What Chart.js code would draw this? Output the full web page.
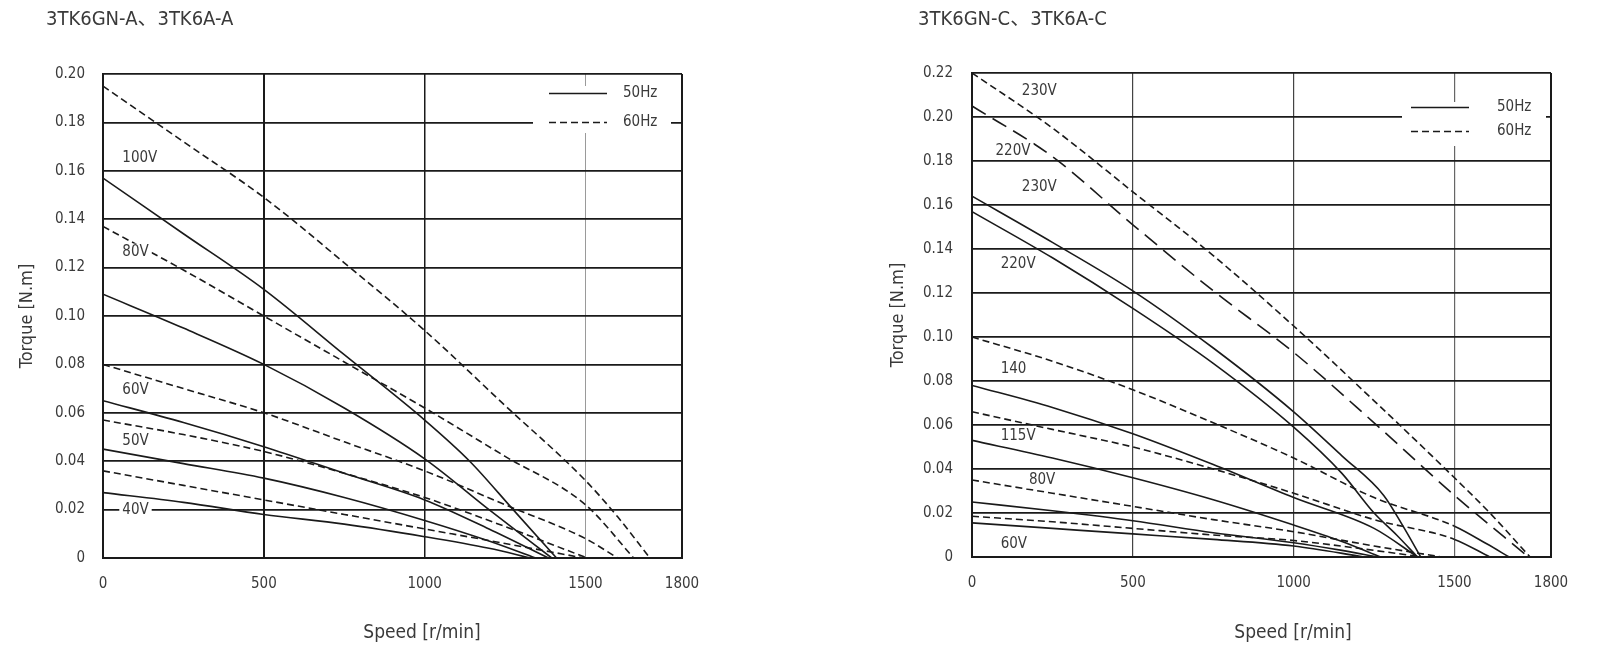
<!DOCTYPE html>
<html>
<head>
<meta charset="utf-8">
<title>3TK6 torque curves</title>
<script src="https://cdn.jsdelivr.net/npm/chart.js@4.4.1/dist/chart.umd.min.js"></script>
<style>
    html, body { margin: 0; padding: 0; background: #fff; }
    #wrap { position: relative; width: 1600px; height: 655px; }
    .panel { position: absolute; top: 0; width: 800px; height: 655px; }
</style>
</head>
<body>
<div id="wrap">
    <div class="panel" style="left:0"><canvas id="chartA" width="800" height="655"></canvas></div>
    <div class="panel" style="left:800px"><canvas id="chartC" width="800" height="655"></canvas></div>
</div>
<script>
// tick labels shared by both charts
const speedTicks = [0, 500, 1000, 1500, 1800];
const torqueTicksA = [0, 0.02, 0.04, 0.06, 0.08, 0.10, 0.12, 0.14, 0.16, 0.18, 0.20];
const torqueTicksC = [0, 0.02, 0.04, 0.06, 0.08, 0.10, 0.12, 0.14, 0.16, 0.18, 0.20, 0.22];

// ---- 3TK6GN-A / 3TK6A-A : speed [r/min] and torque [N.m] ----
const a100v50Speed = [0, 250, 500, 750, 1000, 1140, 1275, 1410];
const a100v50Torque = [0.157, 0.134, 0.111, 0.084, 0.057, 0.040, 0.020, 0];
const a80v50Speed = [0, 250, 500, 750, 1000, 1200, 1395];
const a80v50Torque = [0.109, 0.095, 0.080, 0.062, 0.041, 0.020, 0];
const a60v50Speed = [0, 250, 500, 750, 1000, 1200, 1385];
const a60v50Torque = [0.065, 0.056, 0.046, 0.035, 0.024, 0.012, 0];
const a50v50Speed = [0, 250, 500, 750, 1000, 1200, 1345];
const a50v50Torque = [0.045, 0.039, 0.033, 0.025, 0.0155, 0.007, 0];
const a40v50Speed = [0, 250, 500, 750, 1000, 1200, 1330];
const a40v50Torque = [0.027, 0.023, 0.018, 0.014, 0.0088, 0.004, 0];

const a100v60Speed = [0, 250, 500, 750, 1000, 1250, 1500, 1600, 1700];
const a100v60Torque = [0.195, 0.172, 0.149, 0.122, 0.094, 0.063, 0.032, 0.017, 0];
const a80v60Speed = [0, 250, 500, 750, 1000, 1250, 1500, 1650];
const a80v60Torque = [0.137, 0.119, 0.100, 0.081, 0.062, 0.042, 0.022, 0];
const a60v60Speed = [0, 250, 500, 750, 1000, 1250, 1500, 1600];
const a60v60Torque = [0.080, 0.070, 0.060, 0.048, 0.036, 0.022, 0.008, 0];
const a50v60Speed = [0, 250, 500, 750, 1000, 1250, 1505];
const a50v60Torque = [0.057, 0.051, 0.044, 0.035, 0.025, 0.013, 0];
const a40v60Speed = [0, 250, 500, 750, 1000, 1250, 1495];
const a40v60Torque = [0.036, 0.030, 0.024, 0.018, 0.012, 0.006, 0];

// voltage labels of chart A (text, speed, torque where the text starts)
const aLabels = ['100V', '80V', '60V', '50V', '40V'];
const aLabelSpeed = [60, 60, 60, 60, 60];
const aLabelTorque = [0.1654, 0.1266, 0.0692, 0.0481, 0.0198];

// ---- 3TK6GN-C / 3TK6A-C ----
const c230v60Speed = [0, 250, 500, 750, 1000, 1250, 1500, 1610, 1735];
const c230v60Torque = [0.220, 0.195, 0.166, 0.137, 0.105, 0.071, 0.036, 0.020, 0];
const c220v60Speed = [0, 250, 500, 750, 1000, 1250, 1500, 1730];
const c220v60Torque = [0.205, 0.182, 0.151, 0.121, 0.093, 0.061, 0.028, 0];
const c230v50Speed = [0, 250, 500, 750, 1000, 1150, 1280, 1340, 1395];
const c230v50Torque = [0.164, 0.143, 0.121, 0.095, 0.066, 0.046, 0.028, 0.014, 0];
const c220v50Speed = [0, 250, 500, 750, 1000, 1150, 1250, 1320, 1385];
const c220v50Torque = [0.157, 0.136, 0.113, 0.088, 0.059, 0.038, 0.020, 0.010, 0];
const c140v60Speed = [0, 250, 500, 750, 1000, 1250, 1500, 1600, 1670];
const c140v60Torque = [0.100, 0.089, 0.076, 0.061, 0.045, 0.027, 0.014, 0.006, 0];
const c140v50Speed = [0, 250, 500, 750, 1000, 1250, 1385];
const c140v50Torque = [0.078, 0.068, 0.056, 0.042, 0.027, 0.013, 0];
const c115v60Speed = [0, 250, 500, 750, 1000, 1250, 1500, 1610];
const c115v60Torque = [0.066, 0.058, 0.050, 0.040, 0.029, 0.017, 0.008, 0];
const c115v50Speed = [0, 250, 500, 750, 1000, 1150, 1270];
const c115v50Torque = [0.053, 0.045, 0.036, 0.026, 0.0145, 0.007, 0];
const c80v60Speed = [0, 250, 500, 750, 1000, 1250, 1460];
const c80v60Torque = [0.035, 0.029, 0.023, 0.017, 0.0115, 0.005, 0];
const c80v50Speed = [0, 250, 500, 750, 1000, 1150, 1260];
const c80v50Torque = [0.025, 0.021, 0.0165, 0.011, 0.0065, 0.003, 0];
const c60v60Speed = [0, 250, 500, 750, 1000, 1250, 1400];
const c60v60Torque = [0.0185, 0.016, 0.013, 0.010, 0.0075, 0.003, 0];
const c60v50Speed = [0, 250, 500, 750, 1000, 1220];
const c60v50Torque = [0.0155, 0.013, 0.0105, 0.008, 0.005, 0];

const cLabels = ['230V', '220V', '230V', '220V', '140', '115V', '80V', '60V'];
const cLabelSpeed = [155, 73, 155, 89, 89, 89, 177, 89];
const cLabelTorque = [0.2117, 0.1843, 0.168, 0.1332, 0.0854, 0.0548, 0.0348, 0.006];

// ---- styling ----
const FONT = "'Liberation Sans Narrow', 'Arial Narrow', 'DejaVu Sans Condensed', 'Noto Sans CJK SC', sans-serif";
const TEXT_COLOR = '#3a3a3a';
const LINE_COLOR = '#1a1a1a';
const SHORT_DASH = [7, 4];
const LONG_DASH = [16, 8];

// build one curve from its speed / torque arrays
function curve(label, speeds, torques, dash, solidTailFrom) {
    const ds = {
        label: label,
        data: speeds.map((s, i) => ({ x: s, y: torques[i] })),
        borderColor: LINE_COLOR,
        borderWidth: 1.6,
        borderDash: dash,
        pointRadius: 0,
        cubicInterpolationMode: 'monotone',
        fill: false
    };
    // the end of some 60Hz curves is drawn as a solid line
    if (solidTailFrom) {
        ds.segment = {
            borderDash: ctx => ctx.p0.parsed.x >= solidTailFrom ? [] : undefined
        };
    }
    return ds;
}

// draws titles, voltage labels and the small legend box
const textPlugin = {
    id: 'chartText',
    afterDatasetsDraw(chart, args, opts) {
        const { ctx, chartArea: area, scales: { x, y } } = chart;
        ctx.save();
        ctx.textBaseline = 'middle';
        ctx.fillStyle = TEXT_COLOR;

        ctx.font = `${opts.titleSize}px ${FONT}`;
        ctx.textAlign = 'left';
        ctx.fillText(opts.title, opts.titleX, opts.titleY);

        ctx.font = `19px ${FONT}`;
        ctx.textAlign = 'center';
        ctx.fillText(opts.xTitle, opts.xTitleX, opts.xTitleY);

        ctx.font = `15px ${FONT}`;
        ctx.textAlign = 'left';
        opts.labels.forEach((txt, i) => {
            const px = x.getPixelForValue(opts.labelSpeed[i]);
            const py = y.getPixelForValue(opts.labelTorque[i]);
            const w = ctx.measureText(txt).width;
            ctx.fillStyle = '#fff';
            ctx.fillRect(px - 3, py - 8, w + 6, 16);
            ctx.fillStyle = TEXT_COLOR;
            ctx.fillText(txt, px, py);
        });

        // legend
        const lg = opts.legend;
        ctx.fillStyle = '#fff';
        ctx.fillRect(area.right + lg.boxLeft, area.top + lg.boxTop,
            lg.boxRight - lg.boxLeft, lg.boxBottom - lg.boxTop);
        ctx.strokeStyle = LINE_COLOR;
        ctx.lineWidth = 1.5;
        [[], SHORT_DASH].forEach((dash, i) => {
            const ly = Math.round(area.top + lg.rows[i]) + 0.5;
            ctx.setLineDash(dash);
            ctx.beginPath();
            ctx.moveTo(area.right + lg.lineLeft, ly);
            ctx.lineTo(area.right + lg.lineRight, ly);
            ctx.stroke();
            ctx.fillStyle = TEXT_COLOR;
            ctx.fillText(lg.text[i], area.right + lg.textLeft, ly);
        });
        ctx.restore();
    }
};

function makeConfig(datasets, cfg) {
    return {
        type: 'line',
        data: { datasets: datasets },
        plugins: [textPlugin],
        options: {
            responsive: false,
            animation: false,
            devicePixelRatio: 1,
            layout: { padding: { left: 0, right: cfg.padRight, top: cfg.padTop, bottom: 0 } },
            plugins: {
                legend: { display: false },
                tooltip: { enabled: false },
                chartText: cfg.text
            },
            scales: {
                x: {
                    type: 'linear',
                    min: 0,
                    max: 1800,
                    afterBuildTicks: axis => { axis.ticks = speedTicks.map(v => ({ value: v })); },
                    afterFit: scale => { scale.height = cfg.xHeight; },
                    ticks: {
                        autoSkip: false,
                        maxRotation: 0,
                        padding: 17,
                        color: TEXT_COLOR,
                        font: { family: FONT, size: 15 },
                        callback: v => String(v)
                    },
                    grid: {
                        drawTicks: false,
                        color: ctx => cfg.xGridColor[speedTicks.indexOf(ctx.tick.value)],
                        lineWidth: ctx => cfg.xGridWidth[speedTicks.indexOf(ctx.tick.value)]
                    },
                    border: { display: true, color: LINE_COLOR, width: 2 }
                },
                y: {
                    type: 'linear',
                    min: 0,
                    max: cfg.yTicks[cfg.yTicks.length - 1],
                    afterBuildTicks: axis => { axis.ticks = cfg.yTicks.map(v => ({ value: v })); },
                    afterFit: scale => { scale.width = cfg.yWidth; },
                    ticks: {
                        padding: cfg.yTickPad,
                        color: TEXT_COLOR,
                        font: { family: FONT, size: 15 },
                        callback: v => v === 0 ? '0' : v.toFixed(2)
                    },
                    grid: { drawTicks: false, color: LINE_COLOR, lineWidth: 1.8 },
                    border: { display: true, color: LINE_COLOR, width: 2 },
                    title: {
                        display: true,
                        text: 'Torque [N.m]',
                        color: TEXT_COLOR,
                        font: { family: FONT, size: 18 },
                        padding: { top: cfg.yTitlePad, bottom: 0 }
                    }
                }
            }
        }
    };
}

const datasetsA = [
    curve('100V 50Hz', a100v50Speed, a100v50Torque, []),
    curve('80V 50Hz', a80v50Speed, a80v50Torque, []),
    curve('60V 50Hz', a60v50Speed, a60v50Torque, []),
    curve('50V 50Hz', a50v50Speed, a50v50Torque, []),
    curve('40V 50Hz', a40v50Speed, a40v50Torque, []),
    curve('100V 60Hz', a100v60Speed, a100v60Torque, SHORT_DASH),
    curve('80V 60Hz', a80v60Speed, a80v60Torque, SHORT_DASH),
    curve('60V 60Hz', a60v60Speed, a60v60Torque, SHORT_DASH),
    curve('50V 60Hz', a50v60Speed, a50v60Torque, SHORT_DASH),
    curve('40V 60Hz', a40v60Speed, a40v60Torque, SHORT_DASH)
];

const datasetsC = [
    curve('230V 60Hz', c230v60Speed, c230v60Torque, SHORT_DASH),
    curve('220V 60Hz', c220v60Speed, c220v60Torque, LONG_DASH),
    curve('230V 50Hz', c230v50Speed, c230v50Torque, []),
    curve('220V 50Hz', c220v50Speed, c220v50Torque, []),
    curve('140V 60Hz', c140v60Speed, c140v60Torque, SHORT_DASH, 1500),
    curve('140V 50Hz', c140v50Speed, c140v50Torque, []),
    curve('115V 60Hz', c115v60Speed, c115v60Torque, SHORT_DASH, 1500),
    curve('115V 50Hz', c115v50Speed, c115v50Torque, []),
    curve('80V 60Hz', c80v60Speed, c80v60Torque, SHORT_DASH),
    curve('80V 50Hz', c80v50Speed, c80v50Torque, []),
    curve('60V 60Hz', c60v60Speed, c60v60Torque, SHORT_DASH),
    curve('60V 50Hz', c60v50Speed, c60v50Torque, [])
];

new Chart(document.getElementById('chartA'), makeConfig(datasetsA, {
    padRight: 118, padTop: 74, xHeight: 97, yWidth: 103, yTickPad: 18, yTitlePad: 17,
    yTicks: torqueTicksA,
    xGridColor: [LINE_COLOR, LINE_COLOR, LINE_COLOR, '#9a9a9a', LINE_COLOR],
    xGridWidth: [2, 2, 1.5, 1, 2],
    text: {
        title: '3TK6GN-A、3TK6A-A', titleSize: 20, titleX: 46, titleY: 20,
        xTitle: 'Speed [r/min]', xTitleX: 422, xTitleY: 633,
        labels: aLabels, labelSpeed: aLabelSpeed, labelTorque: aLabelTorque,
        legend: {
            boxLeft: -149, boxRight: -11, boxTop: 12, boxBottom: 59,
            lineLeft: -133, lineRight: -75, textLeft: -59, rows: [19, 48],
            text: ['50Hz', '60Hz']
        }
    }
}));

new Chart(document.getElementById('chartC'), makeConfig(datasetsC, {
    padRight: 49, padTop: 73, xHeight: 98, yWidth: 172, yTickPad: 19, yTitlePad: 88,
    yTicks: torqueTicksC,
    xGridColor: ['#444', '#444', '#444', '#666', LINE_COLOR],
    xGridWidth: [2, 1.2, 1.2, 1.2, 2],
    text: {
        title: '3TK6GN-C、3TK6A-C', titleSize: 20, titleX: 118, titleY: 20,
        xTitle: 'Speed [r/min]', xTitleX: 493, xTitleY: 633,
        labels: cLabels, labelSpeed: cLabelSpeed, labelTorque: cLabelTorque,
        legend: {
            boxLeft: -149, boxRight: -5, boxTop: 29, boxBottom: 73,
            lineLeft: -140, lineRight: -82, textLeft: -54, rows: [34, 58],
            text: ['50Hz', '60Hz']
        }
    }
}));
</script>
</body>
</html>
